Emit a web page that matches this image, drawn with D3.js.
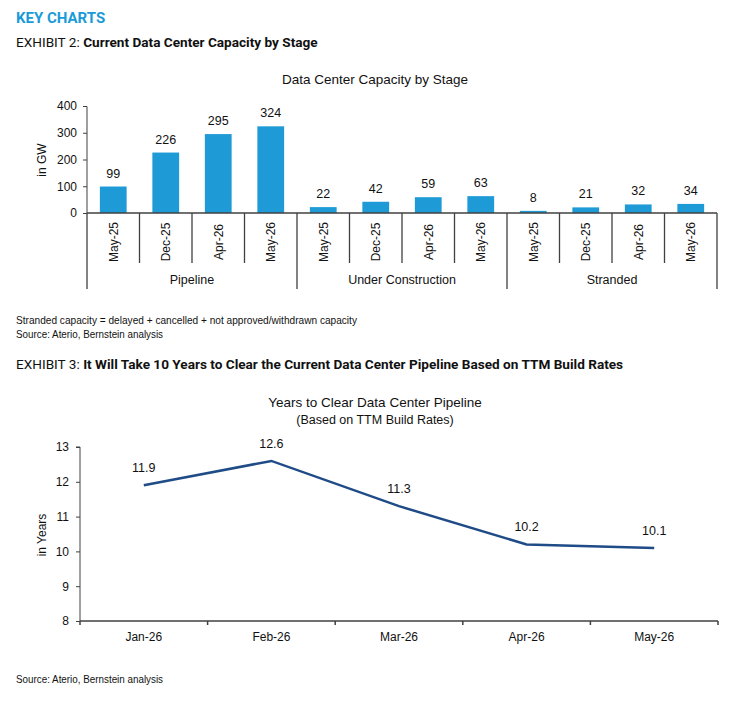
<!DOCTYPE html>
<html>
<head>
<meta charset="utf-8">
<script src="https://cdn.jsdelivr.net/npm/d3@7"></script>
<style>
body { margin: 0; background: #fff; }
svg { display: block; }
text { font-family: "Liberation Sans", Arial, sans-serif; fill: #111; }
.hd { font-family: Roboto, sans-serif; }
.axis path, .axis line { stroke: #404040; }
.axis text { font-size: 12px; fill: #111; }
</style>
</head>
<body>
<div id="chart"></div>
<script>
// chart 1 data
var stages = ["Pipeline", "Under Construction", "Stranded"];
var months = ["May-25", "Dec-25", "Apr-26", "May-26"];
var pipeline = [99, 226, 295, 324];
var underConstruction = [22, 42, 59, 63];
var stranded = [8, 21, 32, 34];
var gwTicks = [0, 100, 200, 300, 400];

// chart 2 data
var lineMonths = ["Jan-26", "Feb-26", "Mar-26", "Apr-26", "May-26"];
var yearsToClear = [11.9, 12.6, 11.3, 10.2, 10.1];
var yearTicks = [8, 9, 10, 11, 12, 13];

var blue = "#1e9ad6";
var navy = "#1f4b87";

var svg = d3.select("#chart").append("svg")
    .attr("width", 733).attr("height", 713);

// headers
svg.append("text").attr("class", "hd")
    .attr("x", 16).attr("y", 23)
    .style("font-size", "15px").style("font-weight", "bold")
    .style("fill", "#1a9bd8")
    .text("KEY CHARTS");

function exhibit(y, num, title) {
    var t = svg.append("text").attr("class", "hd")
        .attr("x", 16).attr("y", y).style("font-size", "13.6px");
    t.append("tspan").text("EXHIBIT " + num + ": ");
    t.append("tspan").style("font-weight", "bold").text(title);
}
exhibit(47, 2, "Current Data Center Capacity by Stage");
exhibit(369, 3, "It Will Take 10 Years to Clear the Current Data Center Pipeline Based on TTM Build Rates");

// ---------- chart 1 ----------
var bars = [];
stages.forEach(function (s, g) {
    var vals = [pipeline, underConstruction, stranded][g];
    months.forEach(function (m, i) {
        bars.push({ stage: s, month: m, value: vals[i], idx: g * months.length + i });
    });
});

var x1 = d3.scaleBand().domain(d3.range(bars.length)).range([87, 717]).padding(0);
var y1 = d3.scaleLinear().domain([0, 400]).range([213, 106]);
var bw = x1.bandwidth();

svg.append("text")
    .attr("x", 375).attr("y", 84).attr("text-anchor", "middle")
    .style("font-size", "13.5px")
    .text("Data Center Capacity by Stage");

svg.append("g").attr("class", "axis")
    .attr("transform", "translate(87,0)")
    .call(d3.axisLeft(y1).tickValues(gwTicks).tickSize(4).tickPadding(6))
    .call(function (g) { g.select(".domain").attr("d", "M-4,106.5H0V213"); });

svg.append("text")
    .attr("transform", "translate(46,160) rotate(-90)")
    .attr("text-anchor", "middle").style("font-size", "12px")
    .text("in GW");

svg.selectAll(".bar").data(bars).enter().append("rect")
    .attr("class", "bar")
    .attr("x", function (d) { return x1(d.idx) + bw * 0.245; })
    .attr("width", bw * 0.51)
    .attr("y", function (d) { return y1(d.value); })
    .attr("height", function (d) { return y1(0) - y1(d.value); })
    .attr("fill", blue);

svg.selectAll(".blabel").data(bars).enter().append("text")
    .attr("x", function (d) { return x1(d.idx) + bw / 2; })
    .attr("y", function (d) { return y1(d.value) - 9; })
    .attr("text-anchor", "middle").style("font-size", "12.5px")
    .text(function (d) { return d.value; });

// axis line and separators
var axisG = svg.append("g").attr("stroke", "#404040").attr("stroke-width", 1.3);
axisG.append("line").attr("x1", 87).attr("x2", 717).attr("y1", y1(0)).attr("y2", y1(0));
d3.range(bars.length + 1).forEach(function (i) {
    var xx = 87 + i * bw;
    var long = (i % months.length === 0);
    axisG.append("line")
        .attr("x1", xx).attr("x2", xx)
        .attr("y1", y1(0)).attr("y2", long ? 289 : 263);
});

svg.selectAll(".mlabel").data(bars).enter().append("text")
    .attr("transform", function (d) {
        return "translate(" + (x1(d.idx) + bw / 2 + 4.5) + ",242) rotate(-90)";
    })
    .attr("text-anchor", "middle").style("font-size", "12px")
    .text(function (d) { return d.month; });

svg.selectAll(".slabel").data(stages).enter().append("text")
    .attr("x", function (d, g) { return x1(g * months.length) + bw * months.length / 2; })
    .attr("y", 284).attr("text-anchor", "middle").style("font-size", "12.5px")
    .text(function (d) { return d; });

svg.append("text").attr("x", 16).attr("y", 324).style("font-size", "10.5px")
    .attr("textLength", 341).attr("lengthAdjust", "spacingAndGlyphs")
    .text("Stranded capacity = delayed + cancelled + not approved/withdrawn capacity");
svg.append("text").attr("x", 16).attr("y", 338).style("font-size", "10.5px")
    .attr("textLength", 147).attr("lengthAdjust", "spacingAndGlyphs")
    .text("Source: Aterio, Bernstein analysis");

// ---------- chart 2 ----------
var x2 = d3.scaleBand().domain(lineMonths).range([80, 718]).padding(0);
var y2 = d3.scaleLinear().domain([8, 13]).range([621, 447]);
var bw2 = x2.bandwidth();

svg.append("text")
    .attr("x", 375).attr("y", 407).attr("text-anchor", "middle")
    .style("font-size", "13.5px")
    .text("Years to Clear Data Center Pipeline");
svg.append("text")
    .attr("x", 375).attr("y", 424).attr("text-anchor", "middle")
    .style("font-size", "12.5px")
    .text("(Based on TTM Build Rates)");

svg.append("g").attr("class", "axis")
    .attr("transform", "translate(80,0)")
    .call(d3.axisLeft(y2).tickValues(yearTicks).tickFormat(d3.format("d")).tickSize(4).tickPadding(7))
    .call(function (g) { g.select(".domain").attr("d", "M-4,447H0V621"); });

svg.append("text")
    .attr("transform", "translate(46,535) rotate(-90)")
    .attr("text-anchor", "middle").style("font-size", "12px")
    .text("in Years");

var xg = svg.append("g").attr("stroke", "#404040").attr("stroke-width", 1.5);
xg.append("line").attr("x1", 80).attr("x2", 718).attr("y1", y2(8)).attr("y2", y2(8));
d3.range(lineMonths.length + 1).forEach(function (i) {
    var xx = 80 + i * bw2;
    xg.append("line").attr("x1", xx).attr("x2", xx).attr("y1", y2(8)).attr("y2", y2(8) + 4);
});

svg.selectAll(".xlab2").data(lineMonths).enter().append("text")
    .attr("x", function (d) { return x2(d) + bw2 / 2; })
    .attr("y", 641).attr("text-anchor", "middle").style("font-size", "12px")
    .text(function (d) { return d; });

var line = d3.line()
    .x(function (d, i) { return x2(lineMonths[i]) + bw2 / 2; })
    .y(function (d) { return y2(d); });

svg.append("path").datum(yearsToClear)
    .attr("d", line).attr("fill", "none")
    .attr("stroke", navy).attr("stroke-width", 2.5);

svg.selectAll(".plabel").data(yearsToClear).enter().append("text")
    .attr("x", function (d, i) { return x2(lineMonths[i]) + bw2 / 2; })
    .attr("y", function (d) { return y2(d) - 13; })
    .attr("text-anchor", "middle").style("font-size", "12.5px")
    .text(function (d) { return d.toFixed(1); });

svg.append("text").attr("x", 16).attr("y", 683).style("font-size", "10.5px")
    .attr("textLength", 147).attr("lengthAdjust", "spacingAndGlyphs")
    .text("Source: Aterio, Bernstein analysis");
</script>
</body>
</html>
